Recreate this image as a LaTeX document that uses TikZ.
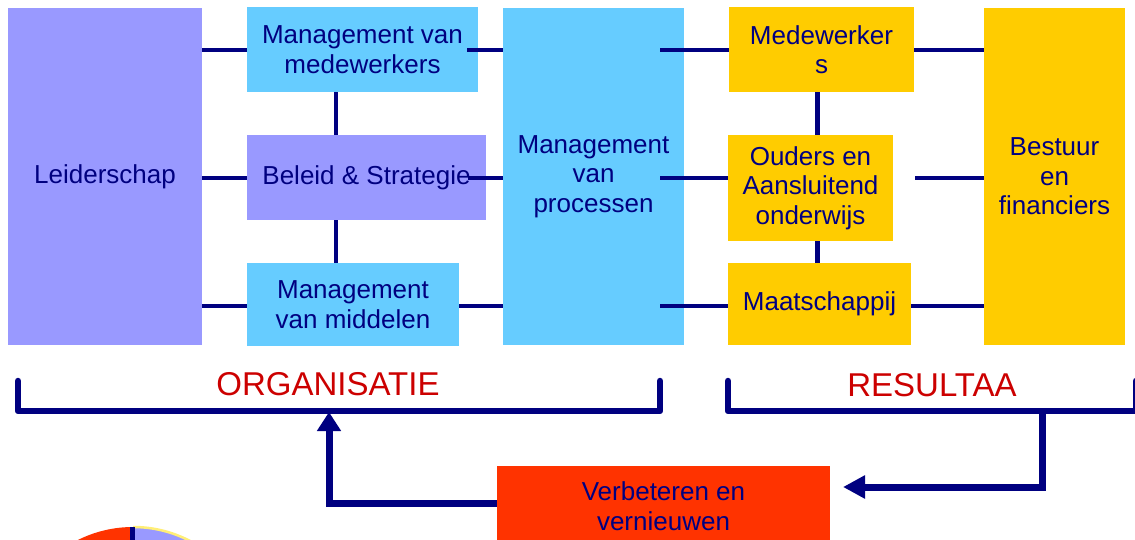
\documentclass[tikz,border=0pt]{standalone}
\usepackage{fontspec}
\setmainfont{Liberation Sans}
\usetikzlibrary{arrows.meta,calc}
\definecolor{navy}{HTML}{000080}
\definecolor{lav}{HTML}{9999FF}
\definecolor{sky}{HTML}{66CCFF}
\definecolor{gold}{HTML}{FFCC00}
\definecolor{orred}{HTML}{FF3300}
\definecolor{darkred}{HTML}{CC0000}
\definecolor{paleyel}{HTML}{FFEE77}
\tikzset{
  box/.style={inner sep=0pt, align=center, text=navy,
    font=\fontsize{26}{29.5}\selectfont},
  conn/.style={draw=navy, line width=4.5pt},
  brack/.style={draw=navy, line width=6.5pt, line join=round, line cap=round},
  flow/.style={draw=navy, line width=7pt},
  lbl/.style={text=darkred, font=\fontsize{33}{36}\selectfont, inner sep=0pt},
}
\begin{document}
\begin{tikzpicture}[x=1pt,y=-1pt]
\useasboundingbox (0,0) rectangle (1135,540);
\clip (0,0) rectangle (1135,540);

% pie fragment bottom left
\begin{scope}
  \fill[orred] (133,650) circle (123pt);
  \begin{scope}
    \clip (133,500) rectangle (300,560);
    \fill[lav] (133,650) circle (123pt);
    \draw[paleyel, line width=2.5pt] (133,650) circle (123pt);
  \end{scope}
  \fill[navy] (130,527) rectangle (135,540);
\end{scope}

% boxes
\node[box, fill=lav, minimum width=194pt, minimum height=337pt] (lead) at (105,176.5) {Leiderschap};
\node[box, fill=sky, minimum width=231pt, minimum height=85pt] (mm) at (362.5,49.5) {Management van\\medewerkers};
\node[box, fill=lav, minimum width=239pt, minimum height=85pt] (bs) at (366.5,177.5) {Beleid \& Strategie};
\node[box, fill=sky, minimum width=212pt, minimum height=83pt] (mid) at (353,304.5) {Management\\van middelen};
\node[box, fill=sky, minimum width=181pt, minimum height=337pt] (proc) at (593.5,176.5) {Management\\van\\processen};
\node[box, fill=gold, minimum width=185pt, minimum height=85pt] (med) at (821.5,49.5) {Medewerker\\s};
\node[box, fill=gold, minimum width=165pt, minimum height=106pt] (oud) at (810.5,188) {Ouders en\\Aansluitend\\onderwijs};
\node[box, fill=gold, minimum width=183pt, minimum height=82pt] (maa) at (819.5,304) {Maatschappij};
\node[box, fill=gold, minimum width=141pt, minimum height=337pt] (best) at (1054.5,176.5) {Bestuur\\en\\financiers};
\node[box, fill=orred, minimum width=333pt, minimum height=80pt, text depth=0pt] (verb) at (663.5,506) {Verbeteren en\\vernieuwen};

% helper coordinates
\coordinate (r1) at (0,50);
\coordinate (r2) at (0,178);
\coordinate (r3) at (0,306);
\coordinate (vl) at (336,0);
\coordinate (vr) at (817.5,0);
\coordinate (pl) at (660,0);
\coordinate (ol) at (915,178);

% left connectors
\draw[conn] (lead.east |- r1) -- (mm.west |- r1);
\draw[conn] (lead.east |- r2) -- (bs.west |- r2);
\draw[conn] (lead.east |- r3) -- (mid.west |- r3);
\draw[conn] (mm.south -| vl) -- (bs.north -| vl);
\draw[conn] (bs.south -| vl) -- (mid.north -| vl);
% middle connectors
\draw[conn] ([xshift=-11pt]mm.east |- r1) -- (proc.west |- r1);
\draw[conn] ([xshift=-18pt]bs.east |- r2) -- (proc.west |- r2);
\draw[conn] (mid.east |- r3) -- (proc.west |- r3);
% right connectors
\draw[conn] (pl |- r1) -- (med.west |- r1);
\draw[conn] (pl |- r2) -- (oud.west |- r2);
\draw[conn] (pl |- r3) -- (maa.west |- r3);
\draw[conn] (med.east |- r1) -- (best.west |- r1);
\draw[conn] (ol) -- (best.west |- ol);
\draw[conn] (maa.east |- r3) -- (best.west |- r3);
\draw[conn] (med.south -| vr) -- (oud.north -| vr);
\draw[conn] (oud.south -| vr) -- (maa.north -| vr);

% brackets
\coordinate (o1) at (18,381);
\coordinate (o2) at (18,411);
\coordinate (o3) at (660,411);
\coordinate (o4) at (660,381);
\draw[brack] (o1) -- (o2) -- (o3) -- (o4);
\coordinate (s1) at (728,381);
\coordinate (s2) at (728,411);
\coordinate (s3) at (1136,411);
\coordinate (s4) at (1136,381);
\draw[brack] (s1) -- (s2) -- (s3) -- (s4);
\node[lbl] (org) at (328,384) {ORGANISATIE};
\node[lbl] (res) at (932,385) {RESULTAA};

% feedback arrows
\coordinate (up) at (329,412);
\coordinate (down) at (1042,411);
\coordinate (tipr) at (843,487);
\draw[flow, -{Triangle[width=23pt,length=19pt]}] ([yshift=3pt]verb.west) -| (up);
\draw[flow, -{Triangle[width=22pt,length=22pt]}] (down) |- (tipr);
\end{tikzpicture}
\end{document}
